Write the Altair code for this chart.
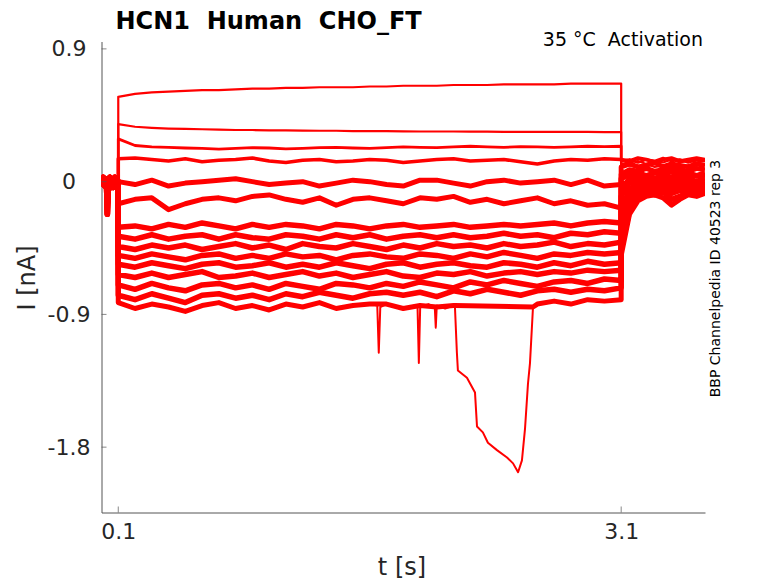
import altair as alt
import pandas as pd

# ---------------- data ----------------
NB = "\u00a0"
TITLE = "HCN1" + NB + NB + "Human" + NB + NB + "CHO_FT"
SUBTITLE = "35 °C" + NB + NB + "Activation"
SIDE_NOTE = "BBP Channelpedia ID 40523 rep 3"
X_TITLE = "t [s]"
Y_TITLE = "I [nA]"
X_TICKS = [0.1, 3.1]
Y_TICKS = [0.9, 0.0, -0.9, -1.8]
X_DOMAIN = [0.0, 3.6]
Y_DOMAIN = [-2.243, 0.95]

# holding segment before the step
T_PRE = [0.0, 0.01, 0.02, 0.03, 0.035, 0.04, 0.05, 0.06, 0.07, 0.08, 0.09, 0.1]
PRE_1 = [0.01, -0.02, 0.02, -0.03, -0.22, -0.02, 0.03, -0.04, 0.02, -0.03, 0.01, 0.0]
PRE_2 = [-0.02, 0.03, -0.03, 0.02, -0.15, 0.01, -0.03, 0.02, -0.04, 0.03, -0.02, 0.0]

# test step, 0.1 s .. 3.1 s
T_STEP = [0.1, 0.2, 0.3, 0.4, 0.5, 0.6, 0.7, 0.8, 0.9, 1.0, 1.1, 1.2, 1.3, 1.4, 1.5, 1.6,
          1.7, 1.8, 1.9, 2.0, 2.1, 2.2, 2.3, 2.4, 2.5, 2.6, 2.7, 2.8, 2.9, 3.0, 3.1]

# tail after the step
T_TAIL = [3.1, 3.15, 3.2, 3.25, 3.3, 3.35, 3.4, 3.45, 3.5, 3.55, 3.6]

STEP_A = [0.575, 0.595, 0.605, 0.61, 0.615, 0.62, 0.62, 0.625, 0.63, 0.63, 0.635, 0.635, 0.64, 0.64, 0.64, 0.645,
          0.645, 0.65, 0.65, 0.65, 0.655, 0.655, 0.655, 0.66, 0.66, 0.66, 0.66, 0.665, 0.665, 0.665, 0.665]
STEP_B = [0.39, 0.372, 0.365, 0.36, 0.357, 0.355, 0.352, 0.35, 0.35, 0.348, 0.347, 0.346, 0.345, 0.345, 0.343, 0.342,
          0.342, 0.341, 0.34, 0.34, 0.34, 0.339, 0.339, 0.338, 0.338, 0.338, 0.337, 0.337, 0.337, 0.336, 0.336]
STEP_C = [0.29, 0.245, 0.235, 0.232, 0.228, 0.225, 0.22, 0.225, 0.23, 0.228, 0.222, 0.226, 0.23, 0.232, 0.228, 0.225,
          0.23, 0.235, 0.232, 0.23, 0.236, 0.24, 0.235, 0.232, 0.238, 0.236, 0.232, 0.236, 0.24, 0.238, 0.24]
STEP_D = [0.155, 0.16, 0.15, 0.14, 0.155, 0.135, 0.145, 0.15, 0.16, 0.14, 0.13, 0.145, 0.15, 0.135, 0.14, 0.15,
          0.145, 0.13, 0.14, 0.15, 0.155, 0.14, 0.145, 0.15, 0.135, 0.12, 0.14, 0.15, 0.145, 0.155, 0.15]
STEP_E = [0.0, -0.02, 0.01, -0.03, -0.01, 0.0, 0.01, 0.02, 0.0, -0.02, -0.01, 0.0, -0.03, -0.01, 0.01, 0.0,
          -0.02, -0.03, 0.01, 0.01, -0.01, -0.03, 0.0, 0.01, -0.01, 0.0, 0.01, -0.02, 0.01, -0.03, -0.02]
STEP_F = [-0.15, -0.12, -0.11, -0.19, -0.15, -0.12, -0.11, -0.13, -0.1, -0.09, -0.12, -0.14, -0.11, -0.16, -0.12, -0.11,
          -0.13, -0.15, -0.11, -0.12, -0.1, -0.14, -0.12, -0.15, -0.13, -0.11, -0.15, -0.13, -0.16, -0.15, -0.18]
STEP_G = [-0.31, -0.3, -0.32, -0.29, -0.31, -0.28, -0.3, -0.32, -0.29, -0.31, -0.29, -0.3, -0.32, -0.29, -0.3, -0.32,
          -0.3, -0.29, -0.31, -0.3, -0.29, -0.31, -0.3, -0.29, -0.3, -0.29, -0.28, -0.3, -0.28, -0.27, -0.28]
STEP_H = [-0.37, -0.39, -0.36, -0.39, -0.37, -0.36, -0.39, -0.36, -0.38, -0.39, -0.36, -0.37, -0.39, -0.36, -0.38, -0.36,
          -0.39, -0.37, -0.36, -0.38, -0.36, -0.38, -0.37, -0.35, -0.37, -0.36, -0.38, -0.35, -0.36, -0.34, -0.35]
STEP_I = [-0.44, -0.46, -0.43, -0.45, -0.43, -0.46, -0.44, -0.42, -0.45, -0.43, -0.46, -0.42, -0.44, -0.45, -0.42, -0.44,
          -0.46, -0.43, -0.45, -0.42, -0.44, -0.43, -0.45, -0.42, -0.44, -0.43, -0.41, -0.44, -0.42, -0.43, -0.41]
STEP_J = [-0.5, -0.52, -0.49, -0.51, -0.53, -0.5, -0.49, -0.52, -0.5, -0.52, -0.49, -0.51, -0.5, -0.53, -0.5, -0.49,
          -0.51, -0.52, -0.49, -0.5, -0.52, -0.49, -0.51, -0.48, -0.5, -0.52, -0.49, -0.5, -0.48, -0.49, -0.48]
STEP_K = [-0.56, -0.58, -0.55, -0.57, -0.59, -0.56, -0.55, -0.58, -0.57, -0.55, -0.58, -0.56, -0.58, -0.55, -0.57, -0.59,
          -0.56, -0.55, -0.58, -0.56, -0.55, -0.57, -0.58, -0.55, -0.56, -0.58, -0.55, -0.57, -0.54, -0.56, -0.55]
STEP_L = [-0.63, -0.65, -0.62, -0.65, -0.63, -0.61, -0.65, -0.64, -0.62, -0.65, -0.63, -0.61, -0.64, -0.62, -0.65, -0.63,
          -0.61, -0.64, -0.65, -0.62, -0.63, -0.61, -0.64, -0.62, -0.61, -0.63, -0.61, -0.62, -0.6, -0.61, -0.6]
STEP_M = [-0.7, -0.73, -0.69, -0.72, -0.74, -0.7, -0.69, -0.72, -0.7, -0.73, -0.69, -0.71, -0.73, -0.69, -0.7, -0.72,
          -0.69, -0.71, -0.68, -0.7, -0.72, -0.68, -0.7, -0.67, -0.69, -0.71, -0.68, -0.67, -0.69, -0.66, -0.67]
STEP_N = [-0.77, -0.8, -0.76, -0.79, -0.82, -0.77, -0.76, -0.79, -0.77, -0.8, -0.76, -0.78, -0.75, -0.77, -0.79, -0.76,
          -0.75, -0.77, -0.75, -0.78, -0.74, -0.76, -0.73, -0.75, -0.77, -0.74, -0.73, -0.75, -0.73, -0.74, -0.72]

# lowest trace: noisy baseline, and the spikes / deep excursion drawn thin
T_STEP_O = [0.1, 0.2, 0.3, 0.4, 0.5, 0.6, 0.7, 0.8, 0.9, 1.0, 1.1, 1.2, 1.3, 1.4, 1.5, 1.6,
            1.7, 1.8, 1.9, 2.0, 2.1, 2.108, 2.574, 2.6, 2.7, 2.8, 2.9, 3.0, 3.1]
STEP_O = [-0.82, -0.86, -0.83, -0.85, -0.88, -0.84, -0.82, -0.86, -0.84, -0.87, -0.83, -0.85, -0.82, -0.86, -0.84, -0.83,
          -0.83, -0.86, -0.84, -0.85, -0.84, -0.84, -0.85, -0.83, -0.81, -0.83, -0.8, -0.81, -0.8]
T_DIP = [1.6, 1.645, 1.654, 1.663, 1.7, 1.8, 1.885, 1.893, 1.901, 1.95, 1.988, 1.994, 2.0, 2.05, 2.1,
         2.108, 2.12, 2.126, 2.18, 2.228, 2.24, 2.275, 2.305, 2.359, 2.419, 2.455, 2.485, 2.508,
         2.526, 2.544, 2.556, 2.574, 2.6]
V_DIP = [-0.83, -0.84, -1.16, -0.85, -0.83, -0.86, -0.84, -1.23, -0.85, -0.83, -0.85, -0.99, -0.84, -0.86, -0.84,
         -0.84, -1.16, -1.28, -1.33, -1.43, -1.66, -1.7, -1.77, -1.82, -1.87, -1.91, -1.97, -1.89,
         -1.68, -1.37, -1.23, -0.85, -0.83]

TAIL_A = [0.10, 0.11, 0.10, 0.12, 0.10, 0.11, 0.12, 0.10, 0.11, 0.12, 0.11]
TAIL_B = [0.12, 0.13, 0.14, 0.12, 0.14, 0.13, 0.15, 0.13, 0.14, 0.13, 0.14]
TAIL_C = [0.14, 0.15, 0.13, 0.15, 0.14, 0.16, 0.14, 0.15, 0.13, 0.15, 0.14]
TAIL_D = [0.15, 0.14, 0.16, 0.15, 0.13, 0.15, 0.16, 0.14, 0.15, 0.16, 0.15]
TAIL_E = [0.10, 0.12, 0.10, 0.11, 0.13, 0.10, 0.12, 0.11, 0.10, 0.12, 0.11]
TAIL_F = [0.05, 0.08, 0.07, 0.09, 0.07, 0.08, 0.10, 0.08, 0.07, 0.09, 0.08]
TAIL_G = [0.02, 0.05, 0.06, 0.04, 0.06, 0.05, 0.07, 0.05, 0.06, 0.04, 0.06]
TAIL_H = [-0.05, 0.02, 0.03, 0.04, 0.02, 0.04, 0.03, 0.05, 0.03, 0.04, 0.03]
TAIL_I = [-0.10, -0.01, 0.01, 0.02, 0.0, 0.02, 0.01, 0.03, 0.01, 0.0, 0.02]
TAIL_J = [-0.20, -0.05, -0.02, 0.0, -0.01, 0.01, -0.02, 0.0, 0.01, -0.01, 0.0]
TAIL_K = [-0.30, -0.10, -0.04, -0.02, -0.03, -0.01, -0.04, -0.02, -0.01, -0.03, -0.02]
TAIL_L = [-0.35, -0.15, -0.07, -0.04, -0.05, -0.03, -0.06, -0.04, -0.03, -0.05, -0.03]
TAIL_M = [-0.40, -0.18, -0.09, -0.06, -0.07, -0.05, -0.08, -0.06, -0.05, -0.07, -0.05]
TAIL_N = [-0.45, -0.20, -0.11, -0.08, -0.09, -0.07, -0.12, -0.10, -0.07, -0.08, -0.07]
TAIL_O = [-0.50, -0.22, -0.13, -0.10, -0.09, -0.11, -0.16, -0.12, -0.09, -0.10, -0.08]

TRACES = [
    ("A", PRE_1, T_STEP, STEP_A, TAIL_A, 2.2),
    ("B", PRE_2, T_STEP, STEP_B, TAIL_B, 2.2),
    ("C", PRE_1, T_STEP, STEP_C, TAIL_C, 2.8),
    ("D", PRE_2, T_STEP, STEP_D, TAIL_D, 3.6),
    ("E", PRE_1, T_STEP, STEP_E, TAIL_E, 5.0),
    ("F", PRE_2, T_STEP, STEP_F, TAIL_F, 5.0),
    ("G", PRE_1, T_STEP, STEP_G, TAIL_G, 5.5),
    ("H", PRE_2, T_STEP, STEP_H, TAIL_H, 5.5),
    ("I", PRE_1, T_STEP, STEP_I, TAIL_I, 5.5),
    ("J", PRE_2, T_STEP, STEP_J, TAIL_J, 5.5),
    ("K", PRE_1, T_STEP, STEP_K, TAIL_K, 5.5),
    ("L", PRE_2, T_STEP, STEP_L, TAIL_L, 5.5),
    ("M", PRE_1, T_STEP, STEP_M, TAIL_M, 5.5),
    ("N", PRE_2, T_STEP, STEP_N, TAIL_N, 5.5),
    ("O", PRE_1, T_STEP_O, STEP_O, TAIL_O, 5.0),
]

rows = []
for name, pre, ts, vs, tail, w in TRACES:
    i = 0
    for t, v in list(zip(T_PRE, pre)) + list(zip(ts, vs)) + list(zip(T_TAIL, tail)):
        rows.append({"trace": name, "t": t, "I": v, "i": i, "w": w})
        i += 1
i = 0
for t, v in zip(T_DIP, V_DIP):
    rows.append({"trace": "O_dip", "t": t, "I": v, "i": i, "w": 2.0})
    i += 1
df = pd.DataFrame(rows)

FONT = "DejaVu Sans"
TXT = "#262626"
AXC = "#555555"

xs = alt.Scale(domain=X_DOMAIN, nice=False, zero=False)
ys = alt.Scale(domain=Y_DOMAIN, nice=False, zero=False)

lines = alt.Chart(df).mark_line(color="#ff0000", clip=True, strokeJoin="round").encode(
    x=alt.X("t:Q", scale=xs, axis=alt.Axis(
        values=X_TICKS, title=X_TITLE, ticks=False, grid=False,
        labelExpr="format(datum.value, '.1f')",
        labelFontSize=22, labelPadding=9, labelColor=TXT, labelFont=FONT,
        domainColor=AXC, titleFontSize=24, titleFont=FONT, titleColor=TXT,
        titleFontWeight="normal", titleX=300, titleY=55, titleBaseline="middle",
        titleAlign="center")),
    y=alt.Y("I:Q", scale=ys, axis=alt.Axis(
        values=Y_TICKS, title=Y_TITLE, ticks=False, grid=False,
        labelExpr="datum.value == 0 ? '0' : (datum.value < 0 ? '-' + format(-datum.value, '.1f') : format(datum.value, '.1f'))",
        labelFontSize=22, labelPadding=33, labelAlign="center", labelBaseline="middle",
        labelColor=TXT, labelFont=FONT, domainColor=AXC,
        titleFontSize=24, titleFont=FONT, titleColor=TXT, titleFontWeight="normal",
        titleX=-74, titleY=236, titleAngle=-90, titleAlign="center", titleBaseline="middle")),
    detail="trace:N",
    order="i:Q",
    strokeWidth=alt.StrokeWidth("w:Q", scale=None),
)

ytick_df = pd.DataFrame({"v": Y_TICKS})
xtick_df = pd.DataFrame({"t": X_TICKS})
yticks = alt.Chart(ytick_df).mark_tick(orient="horizontal", size=5, thickness=1, color=AXC).encode(
    y=alt.Y("v:Q", scale=ys), x=alt.value(2.5))
xticks = alt.Chart(xtick_df).mark_tick(orient="vertical", size=6, thickness=1, color=AXC).encode(
    x=alt.X("t:Q", scale=xs), y=alt.value(468))

def label(text, x, y, size, weight="normal", align="left", angle=0, color="black"):
    return alt.Chart(pd.DataFrame({"s": [text]})).mark_text(
        font=FONT, fontSize=size, fontWeight=weight, align=align, baseline="middle",
        angle=angle, color=color).encode(text="s:N", x=alt.value(x), y=alt.value(y))

title = label(TITLE, 14, -20, 24, weight="bold")
sub = label(SUBTITLE, 601.5, -1.5, 19, align="right")
side = label(SIDE_NOTE, 614.5, 237, 14, align="center", angle=270)

chart = alt.layer(lines, yticks, xticks, title, sub, side).properties(
    width=603.5, height=471,
    autosize=alt.AutoSizeParams(type="none"),
    padding={"left": 93.5, "top": 33.5, "right": 65, "bottom": 70.5},
).configure_view(strokeWidth=0).configure_axis(domainWidth=1)

chart.save("out.html", embed_options={"renderer": "svg", "actions": False})
